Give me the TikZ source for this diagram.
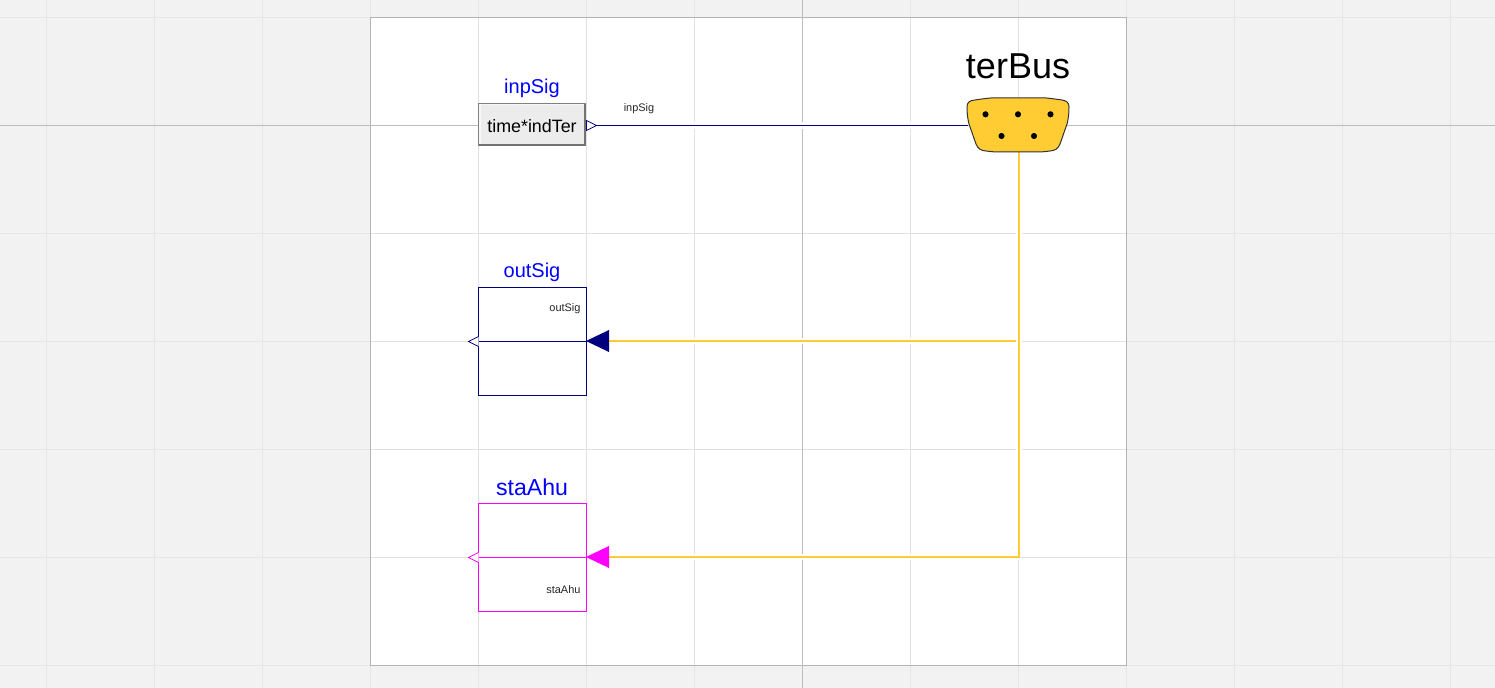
\documentclass[tikz,border=0pt]{standalone}
\usepackage{fontspec}
\setmainfont{Liberation Sans}
\definecolor{bggray}{HTML}{F2F2F2}
\definecolor{gridl}{HTML}{E2E2E2}
\definecolor{gridout}{HTML}{E6E6E6}
\definecolor{gridd}{HTML}{BDBDBD}
\definecolor{pageedge}{HTML}{B4B4B4}
\definecolor{navy}{HTML}{00007F}
\definecolor{busy}{HTML}{FFCC33}
\definecolor{mag}{HTML}{FF00FF}
\definecolor{lblue}{HTML}{0000FF}
\tikzset{
  gridout/.style={draw=gridout,line width=0.75pt},
  gridline/.style={draw=gridl,line width=0.75pt},
  gridmajor/.style={draw=gridd,line width=0.75pt},
  halo/.style={draw=white,line width=5pt},
  blockbox/.style={draw,line width=0.75pt,fill=white,minimum width=81pt,minimum height=81pt,inner sep=0pt,outer sep=0pt},
  title/.style={inner sep=0pt,text=lblue},
  tiny/.style={inner sep=0pt,font=\fontsize{8.2}{10}\selectfont,text=black!85},
  buswire/.style={draw=busy,line width=1.5pt},
  sigwire/.style={draw=navy,line width=0.75pt},
  inport/.style={line width=0.6pt,fill=white},
}
\begin{document}
\begin{tikzpicture}[x=0.75pt,y=-0.75pt]
\useasboundingbox (0,0) rectangle (1495,688);
\fill[bggray] (0,0) rectangle (1495,688);
% grid outside the page
\foreach \gx in {46.5,154.5,262.5,370.5,478.5,586.5,694.5,910.5,1018.5,1126.5,1234.5,1342.5,1450.5}
  \draw[gridout] (\gx,0) -- (\gx,688);
\foreach \gy in {17.5,233.5,341.5,449.5,557.5,665.5}
  \draw[gridout] (0,\gy) -- (1495,\gy);
% page
\fill[white] (370.5,17.5) rectangle (1126.5,665.5);
\begin{scope}
\clip (370.5,17.5) rectangle (1126.5,665.5);
\foreach \gx in {478.5,586.5,694.5,910.5,1018.5}
  \draw[gridline] (\gx,0) -- (\gx,688);
\foreach \gy in {233.5,341.5,449.5,557.5}
  \draw[gridline] (0,\gy) -- (1495,\gy);
\end{scope}
\draw[pageedge,line width=0.75pt] (370.5,17.5) rectangle (1126.5,665.5);
\draw[gridmajor] (802.5,0) -- (802.5,688);
\draw[gridmajor] (0,125.5) -- (1495,125.5);
% nodes
\node[inner sep=0pt,outer sep=0pt,minimum width=81pt,minimum height=32.2pt,fill=black!7.5] (inp) at (532,124.5) {};
\draw[black!3,line width=1.5pt] (inp.south west)++(1.2pt,0) |- ([yshift=-1pt]inp.north east);
\draw[black!55,line width=1.5pt] ([yshift=0.6pt]inp.south west) -- ([xshift=-0.6pt,yshift=0.6pt]inp.south east) -- ([xshift=-0.6pt]inp.north east);
\draw[black!50,line width=0.6pt] (inp.south west) -- (inp.north west) -- (inp.north east);
\node[inner sep=0pt] (inptext) at (532,126) {\fontsize{13.4}{16}\selectfont time*indTer};
\node[blockbox,draw=navy] (out) at (532.5,341.5) {};
\node[blockbox,draw=mag] (sta) at (532.5,557.5) {};
\node[title,font=\fontsize{15}{18}\selectfont] (t1) at (532,88) {inpSig};
\node[title,font=\fontsize{15}{18}\selectfont] (t2) at (532,272) {outSig};
\node[title,font=\fontsize{17.3}{20}\selectfont] (t3) at (532,487) {staAhu};
\node[inner sep=0pt,font=\fontsize{27}{32}\selectfont] (t4) at (1018,66) {terBus};
\node[tiny] (l1) at (639,109) {inpSig};
\node[tiny,anchor=east] (l2) at (580.7,309) {outSig};
\node[tiny,anchor=east] (l3) at (580.7,590) {staAhu};
% bus connector
\coordinate (j2) at (1019,557);
\coordinate (outin) at (609,341);
\coordinate (stain) at (609,557);
\coordinate (busend) at (1016,341);
\coordinate (inpout) at (597,125.5);
\coordinate (busw) at (968,125.5);
\coordinate (busb) at (1019,152);
\draw[halo] (inpout) -- (busw);
\draw[halo] (outin) -- (busend);
\draw[halo] (stain) -- (j2);
\draw[halo] (busb) -- (j2);
\draw[sigwire] (inpout) -- (busw);
\draw[buswire] (outin) -- (busend);
\draw[buswire] (busb) -- (j2) -- (stain);
% signal lines inside blocks and ports
\draw[navy,line width=0.75pt] (out.east) -- (out.west);
\draw[mag,line width=0.75pt] (sta.east) -- (sta.west);
\fill[navy] (586,341) -- (609,330) -- (609,352) -- cycle;
\fill[mag] (586,557) -- (609,546) -- (609,568) -- cycle;
\draw[navy,inport] (478.5,336.5) -- (468.5,341.5) -- (478.5,346.5);
\draw[mag,inport] (478.5,552.5) -- (468.5,557.5) -- (478.5,562.5);
\draw[navy,inport] (586.5,120.5) -- (596.5,125.5) -- (586.5,130.5) -- cycle;
% terBus connector shape
\draw[fill=busy,draw=black!80,line width=0.75pt]
  (967,107) .. controls (967,102) and (970,100.5) .. (975,100)
  .. controls (985,98.5) and (990,97.8) .. (996,97.8)
  -- (1041,97.8)
  .. controls (1048,97.8) and (1053,98.8) .. (1062,100)
  .. controls (1067,100.8) and (1069,103) .. (1069,107)
  .. controls (1069,113) and (1068.5,118) .. (1067,124)
  -- (1060,144)
  .. controls (1058,149) and (1055,150.5) .. (1050,151)
  .. controls (1046,151.5) and (1042,152) .. (1038,152)
  -- (998,152)
  .. controls (994,152) and (990,151.5) .. (986,151)
  .. controls (981,150.5) and (978,149) .. (976,144)
  -- (969,124)
  .. controls (967.5,118) and (967,113) .. (967,107) -- cycle;
\node[circle,fill=black,minimum size=4.6pt,inner sep=0pt] (p1) at (985.5,114.3) {};
\node[circle,fill=black,minimum size=4.6pt,inner sep=0pt] (p2) at (1018,114.3) {};
\node[circle,fill=black,minimum size=4.6pt,inner sep=0pt] (p3) at (1050.5,114.3) {};
\node[circle,fill=black,minimum size=4.6pt,inner sep=0pt] (p4) at (1001.5,136) {};
\node[circle,fill=black,minimum size=4.6pt,inner sep=0pt] (p5) at (1034,136) {};
\end{tikzpicture}
\end{document}
